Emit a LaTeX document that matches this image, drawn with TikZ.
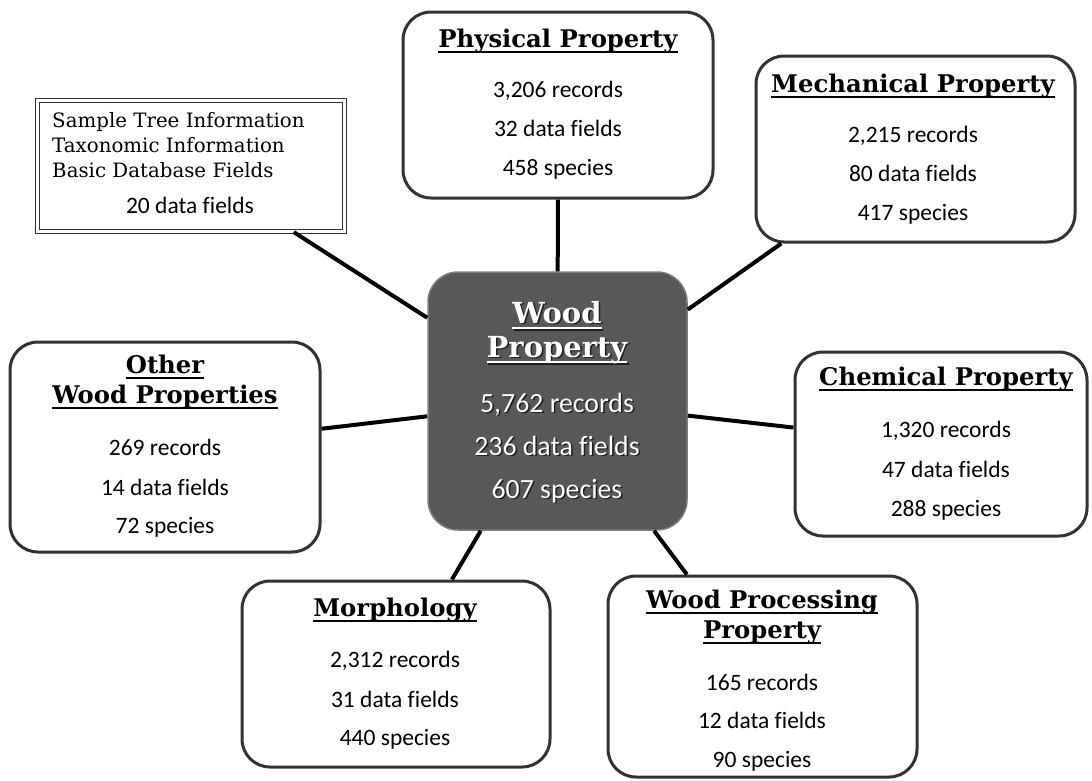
\documentclass[tikz,border=0pt]{standalone}
\usepackage{fontspec}
\setmainfont{Carlito}[Ligatures=NoCommon]
\newfontfamily\hfont{DejaVu Serif}
\newsavebox\ulbox
\newcommand\myul[1]{\sbox\ulbox{#1}\rlap{\rule[-6pt]{\wd\ulbox}{2pt}}\usebox\ulbox}
\definecolor{boxline}{RGB}{50,50,50}
\definecolor{hubfill}{RGB}{88,88,90}
\definecolor{hubline}{RGB}{125,125,127}
\definecolor{hubshadow}{RGB}{30,30,30}
\begin{document}
\begin{tikzpicture}[x=1pt,y=-1pt,
  box/.style={draw=boxline, line width=3pt, rounded corners=28pt, fill=white, inner sep=0pt},
  hubbox/.style={draw=hubline, line width=1.5pt, rounded corners=30pt, fill=hubfill, inner sep=0pt},
  dblbox/.style={draw=boxline, double, double distance=2.4pt, line width=1.2pt, fill=white, inner sep=0pt},
  link/.style={line width=4pt, black},
  head/.style={anchor=base, inner sep=0pt, font=\hfont\bfseries\fontsize{24.3}{24.3}\selectfont},
  body/.style={anchor=base, inner sep=0pt, font=\fontsize{23.5}{23.5}\selectfont},
  serif/.style={anchor=base west, inner sep=0pt, font=\hfont\fontsize{19.8}{19.8}\selectfont},
  hubhead/.style={anchor=base, inner sep=0pt, font=\hfont\bfseries\fontsize{29}{29}\selectfont},
  hubbody/.style={anchor=base, inner sep=0pt, font=\fontsize{27.8}{27.8}\selectfont},
  shade/.style={text=hubshadow, xshift=1.5pt, yshift=-1.5pt},
  light/.style={text=white}
]
\useasboundingbox (0,0) rectangle (1092,780);

% boxes
\node[box, minimum width=310pt, minimum height=186pt] (phys) at (558,105) {};
\node[box, minimum width=319pt, minimum height=186pt] (mech) at (915.5,149) {};
\node[dblbox, minimum width=307pt, minimum height=131pt] (tl) at (191,166) {};
\node[hubbox, minimum width=259pt, minimum height=258pt] (hub) at (557.5,401) {};
\node[box, minimum width=310pt, minimum height=210pt] (other) at (165,447) {};
\node[box, minimum width=292pt, minimum height=184pt] (chem) at (941,444) {};
\node[box, minimum width=308pt, minimum height=186pt] (morph) at (396,674) {};
\node[box, minimum width=309pt, minimum height=201pt] (wp) at (762.5,676.5) {};

% connectors
\draw[link] (hub) -- (phys);
\draw[link] (hub) -- (mech);
\draw[link] (hub) -- (tl);
\draw[link] (hub) -- (other);
\draw[link] (hub) -- (chem);
\draw[link] (hub) -- (morph);
\draw[link] (hub) -- (wp);

% physical
\node[head] (physh) at (558,47) {\myul{Physical Property}};
\node[body] (phys1) at (558,97) {3,206 records};
\node[body] (phys2) at (558,136) {32 data fields};
\node[body] (phys3) at (558,175) {458 species};

% mechanical
\node[head] (mechh) at (913,92) {\myul{Mechanical Property}};
\node[body] (mech1) at (913,142) {2,215 records};
\node[body] (mech2) at (913,181) {80 data fields};
\node[body] (mech3) at (913,220) {417 species};

% top-left
\node[serif] (tl1) at (52,127) {Sample Tree Information};
\node[serif] (tl2) at (52,152) {Taxonomic Information};
\node[serif] (tl3) at (52,177) {Basic Database Fields};
\node[body] (tl4) at (190,213) {20 data fields};

% hub
\node[hubhead, shade] (hubhs1) at (557,323) {\myul{Wood}};
\node[hubhead, light] (hubh1) at (557,323) {\myul{Wood}};
\node[hubhead, shade] (hubhs2) at (557,357) {\myul{Property}};
\node[hubhead, light] (hubh2) at (557,357) {\myul{Property}};
\node[hubbody, shade] (hubs1) at (557,412) {5,762 records};
\node[hubbody, light] (hub1) at (557,412) {5,762 records};
\node[hubbody, shade] (hubs2) at (557,455) {236 data fields};
\node[hubbody, light] (hub2) at (557,455) {236 data fields};
\node[hubbody, shade] (hubs3) at (557,498) {607 species};
\node[hubbody, light] (hub3) at (557,498) {607 species};

% other
\node[head] (otherh1) at (165,373) {\myul{Other}};
\node[head] (otherh2) at (165,403) {\myul{Wood Properties}};
\node[body] (other1) at (165,455) {269 records};
\node[body] (other2) at (165,495) {14 data fields};
\node[body] (other3) at (165,533) {72 species};

% chemical
\node[head] (chemh) at (946,385) {\myul{Chemical Property}};
\node[body] (chem1) at (946,437) {1,320 records};
\node[body] (chem2) at (946,477) {47 data fields};
\node[body] (chem3) at (946,516) {288 species};

% morphology
\node[head] (morphh) at (395,616) {\myul{Morphology}};
\node[body] (morph1) at (395,667) {2,312 records};
\node[body] (morph2) at (395,707) {31 data fields};
\node[body] (morph3) at (395,745) {440 species};

% wood processing
\node[head] (wph1) at (762,608) {\myul{Wood Processing}};
\node[head] (wph2) at (762,638) {\myul{Property}};
\node[body] (wp1) at (762,690) {165 records};
\node[body] (wp2) at (762,728) {12 data fields};
\node[body] (wp3) at (762,767) {90 species};
\end{tikzpicture}
\end{document}
